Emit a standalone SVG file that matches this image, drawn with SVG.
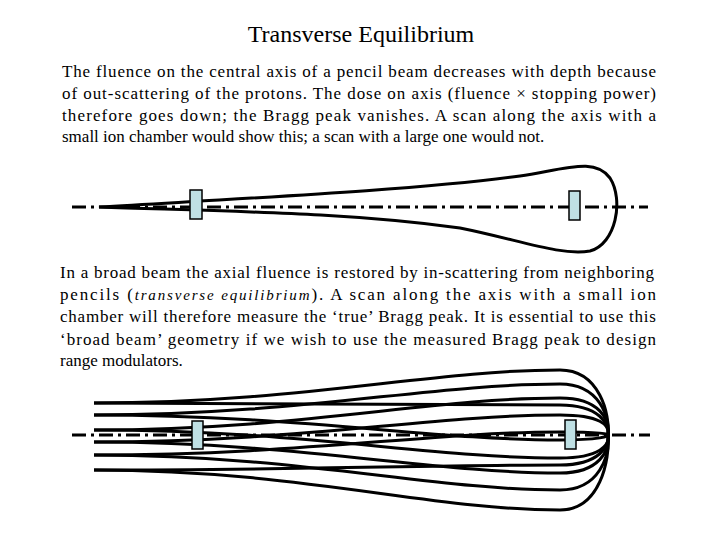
<svg xmlns="http://www.w3.org/2000/svg" width="720" height="540" viewBox="0 0 720 540">
<style>
text{font-family:"Liberation Serif","DejaVu Serif",serif}
.t{font-size:17px;fill:#000}
.axis{stroke:#000;stroke-width:3;stroke-dasharray:14 5 3 5;fill:none}
.beam{stroke:#000;stroke-width:3;fill:none}
.ch{fill:#bfe0e4;stroke:#000;stroke-width:1.5}
</style>
<rect width="720" height="540" fill="#fff"/>
<text x="361" y="42" text-anchor="middle" font-size="24">Transverse Equilibrium</text>
<g id="para1">
<text class="t" x="62" y="77" textLength="594" lengthAdjust="spacing">The fluence on the central axis of a pencil beam decreases with depth because</text>
<text class="t" x="62" y="99" textLength="594" lengthAdjust="spacing">of out-scattering of the protons. The dose on axis (fluence × stopping power)</text>
<text class="t" x="62" y="121" textLength="594" lengthAdjust="spacing">therefore goes down; the Bragg peak vanishes. A scan along the axis with a</text>
<text class="t" x="62" y="142">small ion chamber would show this; a scan with a large one would not.</text>
</g>
<g id="connectors">
<path class="axis" d="M72,207 H648"/>
<path class="axis" d="M72,435 H650"/>
</g>
<g id="pencil-beam">
<path class="beam" d="M99,207 C250,198 420,190 520,176 C570,168 595,158 610,178 C624,200 616,244 590,251 C560,256 520,240 460,228 C350,213 250,212 99,207 Z"/>
<rect id="chamber1" class="ch" x="190" y="190" width="12" height="29"/>
<rect id="chamber2" class="ch" x="569" y="191" width="11" height="29"/>
</g>
<g id="para2">
<text class="t" x="60" y="278" textLength="594" lengthAdjust="spacing">In a broad beam the axial fluence is restored by in-scattering from neighboring</text>
<text class="t" x="60" y="300" textLength="596" lengthAdjust="spacing">pencils (<tspan font-style="italic" font-size="15">transverse  equilibrium</tspan>). A scan along the axis with a small ion</text>
<text class="t" x="60" y="322" textLength="596" lengthAdjust="spacing">chamber will therefore measure the ‘true’ Bragg peak. It is essential to use this</text>
<text class="t" x="60" y="345" textLength="596" lengthAdjust="spacing">‘broad beam’ geometry if we wish to use the measured Bragg peak to design</text>
<text class="t" x="60" y="366">range modulators.</text>
</g>
<g id="broad-beam">
<path class="beam" d="M94,403 C300,403 430,370 560,370 C600,370 610,415 608,435"/>
<path class="beam" d="M94,403 C300,403 430,405 560,405 C600,405 610,425 608,435"/>
<path class="beam" d="M94,415 C300,415 430,384 560,384 C600,384 610,418 608,435"/>
<path class="beam" d="M94,415 C300,415 430,440 560,440 C600,440 610,436 608,435"/>
<path class="beam" d="M94,430 C300,430 430,398 560,398 C600,398 610,420 608,435"/>
<path class="beam" d="M94,430 C300,430 430,458 560,458 C600,458 610,445 608,435"/>
<path class="beam" d="M94,442 C300,442 430,415 560,415 C600,415 610,425 608,435"/>
<path class="beam" d="M94,442 C300,442 430,473 560,473 C600,473 610,450 608,435"/>
<path class="beam" d="M94,455 C300,455 430,432 560,432 C600,432 610,434 608,435"/>
<path class="beam" d="M94,455 C300,455 430,490 560,490 C600,490 610,455 608,435"/>
<path class="beam" d="M94,470 C300,470 430,465 560,465 C600,465 610,445 608,435"/>
<path class="beam" d="M94,470 C300,470 430,510 560,510 C600,510 610,460 608,435"/>
<rect id="chamber3" class="ch" x="192" y="421" width="11" height="28"/>
<rect id="chamber4" class="ch" x="565" y="420" width="11" height="29"/>
</g>
</svg>
